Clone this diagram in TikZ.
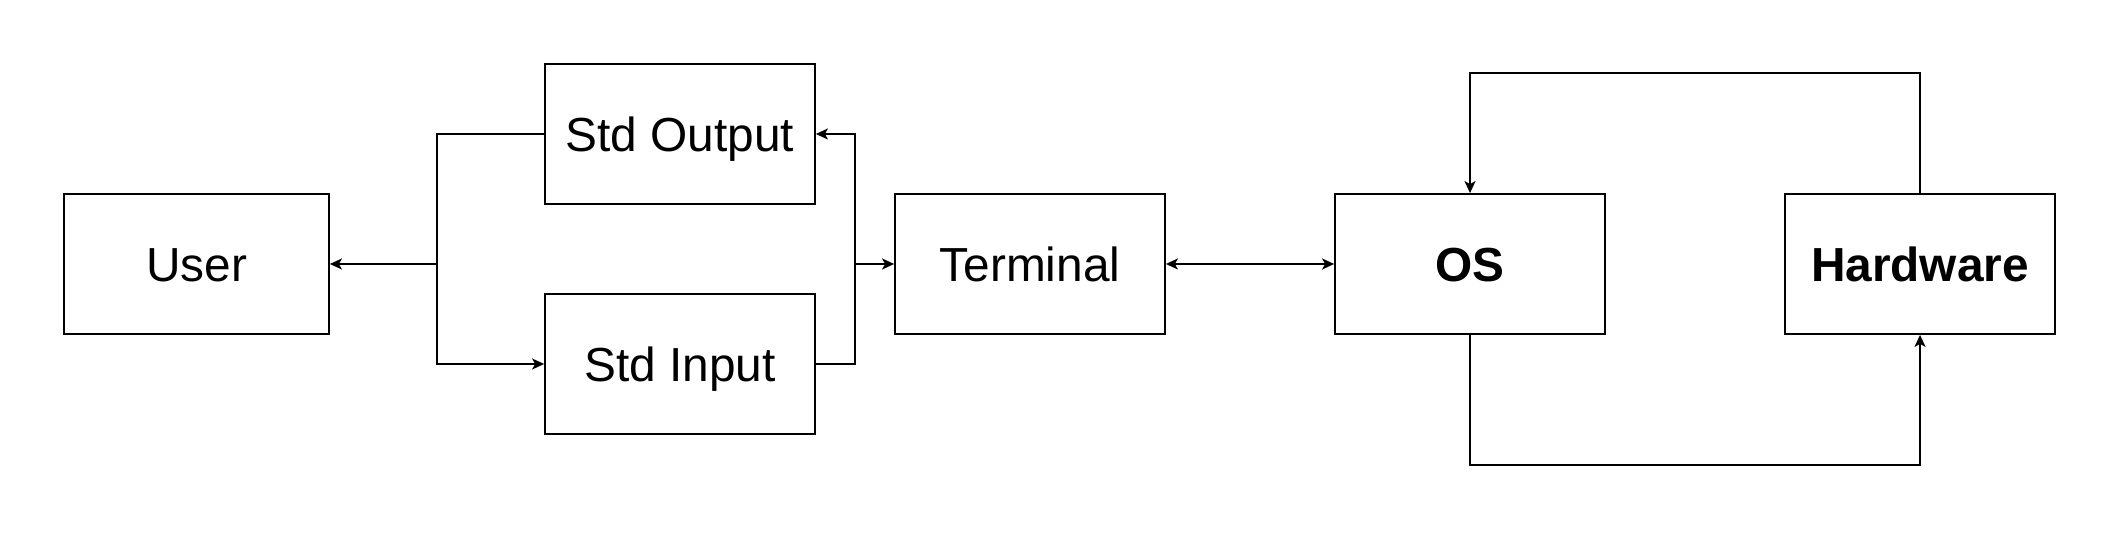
\documentclass[tikz,border=0pt]{standalone}
\usepackage{fontspec}
\setmainfont{Liberation Sans}
\usepackage{xcolor}
\usetikzlibrary{arrows.meta}
\definecolor{linecolor}{HTML}{000000}
\tikzset{
  >={Stealth[length=1.2mm,width=1.1mm,inset=0.3mm]},
  block/.style={
    rectangle,
    draw=linecolor,
    line width=0.5pt,
    minimum width=2.7cm,
    minimum height=1.4cm,
    inner sep=0pt,
    text height=9.8pt,
    text depth=0pt,
    font=\fontsize{13.6}{16}\selectfont
  },
  strong block/.style={
    block,
    font=\fontsize{13.6}{16}\selectfont\bfseries
  },
  link/.style={
    draw=linecolor,
    line width=0.5pt
  }
}

\begin{document}
\begin{tikzpicture}[x=1cm,y=1cm]
  \useasboundingbox (0,0) rectangle (21.2,5.38);

  \node[block,minimum width=2.65cm] (User) at (1.965,2.74) {User};
  \node[block] (StdOut) at (6.80,4.04) {Std Output};
  \node[block] (StdIn) at (6.80,1.74) {Std Input};
  \node[block] (Terminal) at (10.30,2.74) {Terminal};
  \node[strong block] (OS) at (14.70,2.74) {OS};
  \node[strong block] (Hardware) at (19.20,2.74) {Hardware};

  \coordinate (JL) at (4.37,2.74);
  \coordinate (JR) at (8.55,2.74);

  % streams
  \draw[link,->] (StdOut.west) -| (JL) -- (User.east);
  \draw[link,->] (JL) |- (StdIn.west);
  \draw[link,->] (StdIn.east) -| (JR) -- (Terminal.west);
  \draw[link,->] (JR) |- (StdOut.east);

  \draw[link,<->] (Terminal.east) -- (OS.west);

  % os / hardware loop
  \draw[link,->] (Hardware.north) -- ++(0,1.2) -| (OS.north);
  \draw[link,->] (OS.south) -- ++(0,-1.3) -| (Hardware.south);
\end{tikzpicture}
\end{document}
